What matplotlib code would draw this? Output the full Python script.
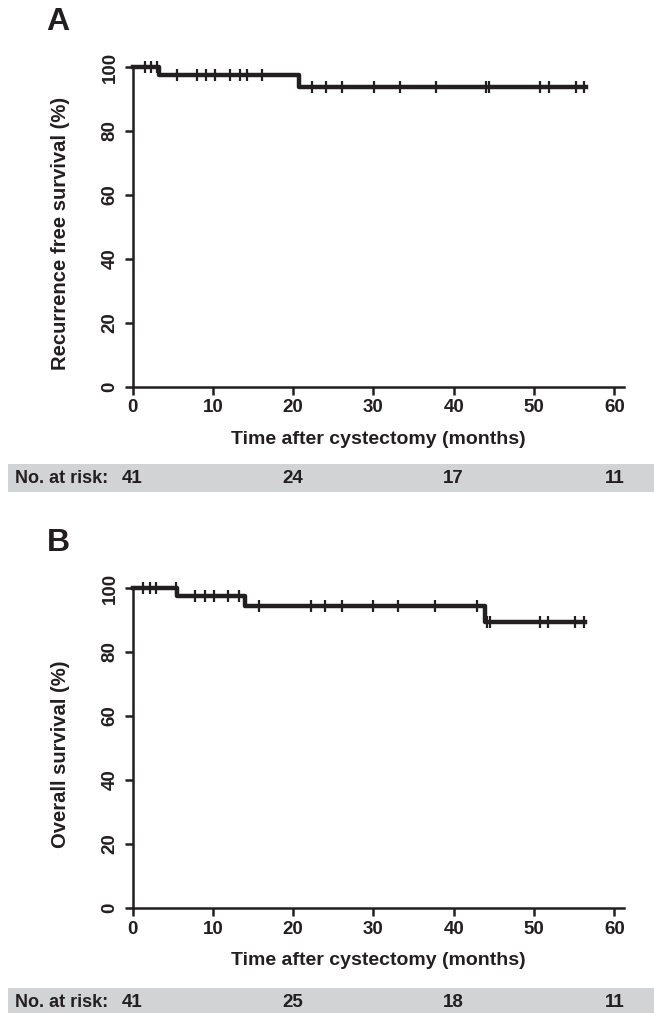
import numpy as np
import matplotlib
matplotlib.use('Agg')
import matplotlib.pyplot as plt
from matplotlib.patches import Rectangle
from matplotlib.transforms import blended_transform_factory

plt.rcParams['font.family'] = ['Liberation Sans Narrow', 'Liberation Sans', 'DejaVu Sans']
plt.rcParams['font.weight'] = 'bold'

# panel A: recurrence free survival
a_event_times = [0, 3.3, 20.7]
a_levels = [100, 97.6, 93.6]
a_end = 56.5
a_censor = [1.6, 2.3, 3.05, 5.6, 8.0, 9.1, 10.3, 12.1, 13.4, 14.3, 16.1,
            22.35, 24.06, 26.1, 30.07, 33.3, 37.8, 44.0, 44.4, 50.7, 51.8, 55.2, 56.2]
a_risk = [41, 24, 17, 11]

# panel B: overall survival
b_event_times = [0, 5.6, 14.0, 43.9]
b_levels = [100, 97.6, 94.5, 89.5]
b_end = 56.3
b_censor = [1.35, 2.2, 2.9, 5.4, 7.8, 9.0, 10.1, 11.9, 13.3, 15.8, 22.2, 24.0,
            26.1, 30.0, 33.1, 37.7, 42.9, 44.2, 44.5, 50.7, 51.7, 55.1, 56.2]
b_risk = [41, 25, 18, 11]

risk_times = [0, 20, 40, 60]
x_ticks = [0, 10, 20, 30, 40, 50, 60]
y_ticks = [0, 20, 40, 60, 80, 100]

INK = '#231f20'
BAND = '#d1d3d4'
W, H = 654, 1013


def km_panel(fig, rect, times, levels, end, censor, ylabel, letter, risk, band_top):
    ax = fig.add_axes(rect)
    xs = list(times) + [end]
    ys = list(levels) + [levels[-1]]
    ax.step(xs, ys, where='post', color=INK, lw=3.2, clip_on=False, zorder=3)

    # censor marks sit on the curve
    idx = np.searchsorted(times, censor, side='right') - 1
    cy = np.array(levels)[idx]
    ax.plot(censor, cy, ls='none', marker='|', ms=8.5, mew=1.6, color=INK,
            clip_on=False, zorder=4)

    ax.set_xlim(0, 61.2)
    ax.set_ylim(0, 100)
    ax.set_xticks(x_ticks)
    ax.set_yticks(y_ticks)
    for s in ['top', 'right']:
        ax.spines[s].set_visible(False)
    for s in ['left', 'bottom']:
        ax.spines[s].set_linewidth(1.8)
        ax.spines[s].set_color(INK)
    ax.tick_params(axis='both', direction='out', length=6, width=1.8, color=INK,
                   labelsize=13.5, labelcolor=INK)
    ax.tick_params(axis='y', labelrotation=90, pad=4)
    for lab in ax.get_yticklabels():
        lab.set_va('center')
    ax.tick_params(axis='x', pad=3)

    ax.set_xlabel('Time after cystectomy (months)', fontsize=14, fontweight='bold', color=INK)
    ax.xaxis.set_label_coords(0.5, -0.163)
    ax.xaxis.label.set_va('center')
    ax.set_ylabel(ylabel, fontsize=14.6, fontweight='bold', color=INK,
                  family=['Liberation Sans', 'DejaVu Sans'])
    ax.yaxis.set_label_coords(-0.147, 0.48)
    ax.yaxis.label.set_va('center')

    top_px = (1 - rect[1] - rect[3]) * H
    fig.text(58 / W, 1 - (top_px - 45) / H, letter, fontsize=23, fontweight='bold',
             ha='center', va='center', color=INK, family=['Liberation Sans', 'DejaVu Sans'])

    # number at risk band
    fig.patches.append(Rectangle((8 / W, 1 - (band_top + 28) / H), 1 - 8 / W, 28 / H,
                                 transform=fig.transFigure, facecolor=BAND,
                                 edgecolor='none', zorder=-1))
    yc = 1 - (band_top + 14) / H
    fig.text(15 / W, yc, 'No. at risk:', fontsize=13, ha='left', va='center', color=INK)
    tr = blended_transform_factory(ax.transData, fig.transFigure)
    for t, n in zip(risk_times, risk):
        ax.text(t, yc, str(n), transform=tr, fontsize=13.5, ha='center', va='center',
                color=INK, clip_on=False, zorder=5)
    return ax


fig = plt.figure(figsize=(6.54, 10.13), dpi=100)
left = 132.5 / W
width = (624 - 132.5) / W
km_panel(fig, [left, 1 - 387 / H, width, 320 / H], a_event_times, a_levels, a_end,
         a_censor, 'Recurrence free survival (%)', 'A', a_risk, 464)
km_panel(fig, [left, 1 - 908 / H, width, 320 / H], b_event_times, b_levels, b_end,
         b_censor, 'Overall survival (%)', 'B', b_risk, 988)

fig.savefig('out.png', dpi=100)
